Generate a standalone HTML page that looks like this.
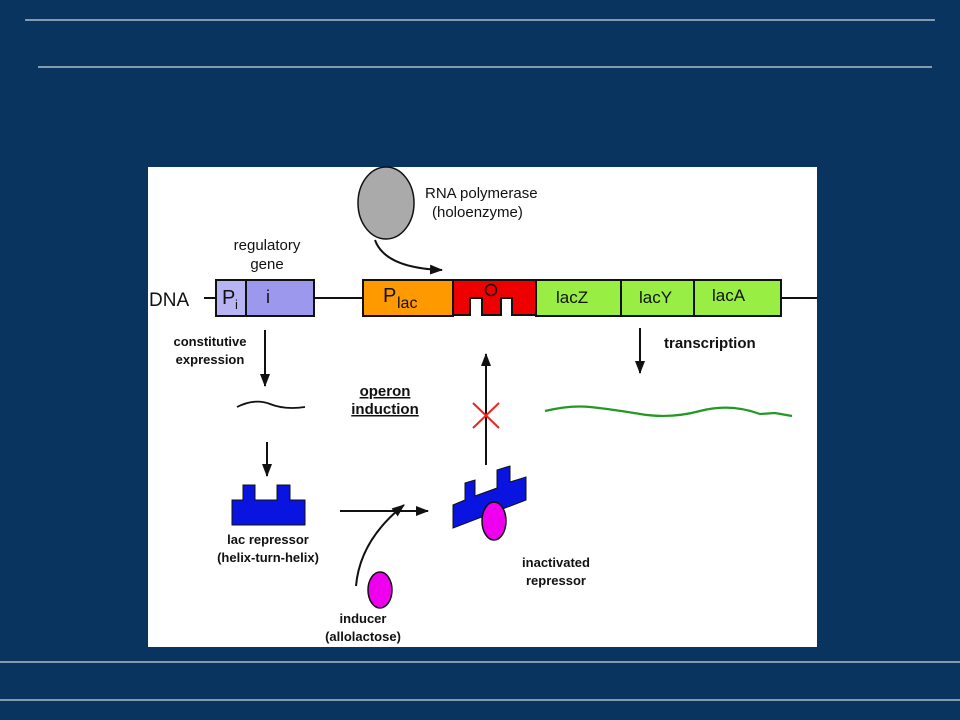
<!DOCTYPE html>
<html><head><style>
body{margin:0;width:960px;height:720px;background:#08345f;overflow:hidden}
svg{display:block}
text{font-family:"Liberation Sans",sans-serif;font-weight:bold;fill:#111}
</style></head><body>
<svg width="960" height="720" viewBox="0 0 960 720">
<rect width="960" height="720" fill="#08345f"/>
<line x1="25" y1="20" x2="935" y2="20" stroke="#cfd8e0" stroke-width="1.3"/>
<line x1="38" y1="67" x2="932" y2="67" stroke="#cfd8e0" stroke-width="1.3"/>
<line x1="0" y1="662" x2="960" y2="662" stroke="#cfd8e0" stroke-width="1.3"/>
<line x1="0" y1="700" x2="960" y2="700" stroke="#cfd8e0" stroke-width="1.3"/>
<rect x="148" y="167" width="669" height="480" fill="#fff"/>
<defs><marker id="a" markerWidth="13" markerHeight="10" refX="12" refY="5" orient="auto" markerUnits="userSpaceOnUse"><path d="M0,0 L13,5 L0,10 Z" fill="#111"/></marker></defs>
<line x1="204" y1="298" x2="216" y2="298" stroke="#111" stroke-width="2"/>
<line x1="314" y1="298" x2="363" y2="298" stroke="#111" stroke-width="2"/>
<line x1="781" y1="298" x2="817" y2="298" stroke="#111" stroke-width="2"/>
<text x="149" y="306" font-size="19" style="font-weight:normal">DNA</text>
<rect x="216" y="280" width="30" height="36" fill="#b8b4f4" stroke="#111" stroke-width="2"/>
<rect x="246" y="280" width="68" height="36" fill="#9c98ee" stroke="#111" stroke-width="2"/>
<text x="222" y="304" font-size="20" style="font-weight:normal">P</text><text x="235" y="309" font-size="13" style="font-weight:normal">i</text>
<text x="266" y="303" font-size="18" style="font-weight:normal">i</text>
<rect x="363" y="280" width="90" height="36" fill="#ff9900" stroke="#111" stroke-width="2"/>
<text x="383" y="302" font-size="20" style="font-weight:normal">P</text><text x="397" y="308" font-size="16" style="font-weight:normal">lac</text>
<path d="M453,280 H536 V315 H512 V298 H501 V315 H482 V298 H470 V315 H453 Z" fill="#ee0000" stroke="#111" stroke-width="2"/>
<circle cx="491" cy="290" r="5.5" fill="none" stroke="#111" stroke-width="1.5"/>
<rect x="536" y="280" width="85" height="36" fill="#99ee44" stroke="#111" stroke-width="2"/>
<rect x="621" y="280" width="73" height="36" fill="#99ee44" stroke="#111" stroke-width="2"/>
<rect x="694" y="280" width="87" height="36" fill="#99ee44" stroke="#111" stroke-width="2"/>
<text x="556" y="303" font-size="17" style="font-weight:normal">lacZ</text>
<text x="639" y="303" font-size="17" style="font-weight:normal">lacY</text>
<text x="712" y="301" font-size="17" style="font-weight:normal">lacA</text>
<ellipse cx="386" cy="203" rx="28" ry="36" fill="#aaa" stroke="#111" stroke-width="1.5"/>
<text x="425" y="198" font-size="15" style="font-weight:normal">RNA polymerase</text>
<text x="432" y="217" font-size="15" style="font-weight:normal">(holoenzyme)</text>
<path d="M375,240 Q385,268 442,270" fill="none" stroke="#111" stroke-width="2" marker-end="url(#a)"/>
<text x="267" y="250" font-size="15" text-anchor="middle" style="font-weight:normal">regulatory</text>
<text x="267" y="269" font-size="15" text-anchor="middle" style="font-weight:normal">gene</text>
<text x="210" y="346" font-size="13" text-anchor="middle">constitutive</text>
<text x="210" y="364" font-size="13" text-anchor="middle">expression</text>
<line x1="265" y1="330" x2="265" y2="386" stroke="#111" stroke-width="2" marker-end="url(#a)"/>
<path d="M237,407 Q255,398 270,404 T305,407" fill="none" stroke="#111" stroke-width="1.8"/>
<line x1="267" y1="442" x2="267" y2="476" stroke="#111" stroke-width="2" marker-end="url(#a)"/>
<path d="M232,525 V500 H243 V485 H255 V500 H277 V485 H290 V500 H305 V525 Z" fill="#0a14e0" stroke="#111" stroke-width="1"/>
<text x="268" y="544" font-size="13" text-anchor="middle">lac repressor</text>
<text x="268" y="562" font-size="13" text-anchor="middle">(helix-turn-helix)</text>
<text x="385" y="396" font-size="15" text-anchor="middle" text-decoration="underline">operon</text>
<text x="385" y="414" font-size="15" text-anchor="middle" text-decoration="underline">induction</text>
<line x1="340" y1="511" x2="428" y2="511" stroke="#111" stroke-width="2" marker-end="url(#a)"/>
<path d="M356,586 Q360,540 404,505" fill="none" stroke="#111" stroke-width="2" marker-end="url(#a)"/>
<ellipse cx="380" cy="590" rx="12" ry="18" fill="#ee00ee" stroke="#111" stroke-width="1.5"/>
<text x="363" y="623" font-size="13" text-anchor="middle">inducer</text>
<text x="363" y="641" font-size="13" text-anchor="middle">(allolactose)</text>
<path d="M453,528 V505 L465,500 V483 L475,480 V496 L497,488 V470 L510,466 V482 L526,477 V500 L453,528 Z" fill="#0a14e0" stroke="#111" stroke-width="1"/>
<ellipse cx="494" cy="521" rx="12" ry="19" fill="#ee00ee" stroke="#111" stroke-width="1.5"/>
<text x="556" y="567" font-size="13" text-anchor="middle">inactivated</text>
<text x="556" y="585" font-size="13" text-anchor="middle">repressor</text>
<line x1="486" y1="465" x2="486" y2="354" stroke="#111" stroke-width="2" marker-end="url(#a)"/>
<path d="M473,403 L499,428 M499,403 L473,428" stroke="#ee2222" stroke-width="2"/>
<text x="664" y="348" font-size="15">transcription</text>
<line x1="640" y1="328" x2="640" y2="373" stroke="#111" stroke-width="2" marker-end="url(#a)"/>
<path d="M545,411 Q570,405 590,407 T640,414 T700,411 T760,414 L775,413 T792,416" fill="none" stroke="#229922" stroke-width="2.2"/>
</svg>
</body></html>
